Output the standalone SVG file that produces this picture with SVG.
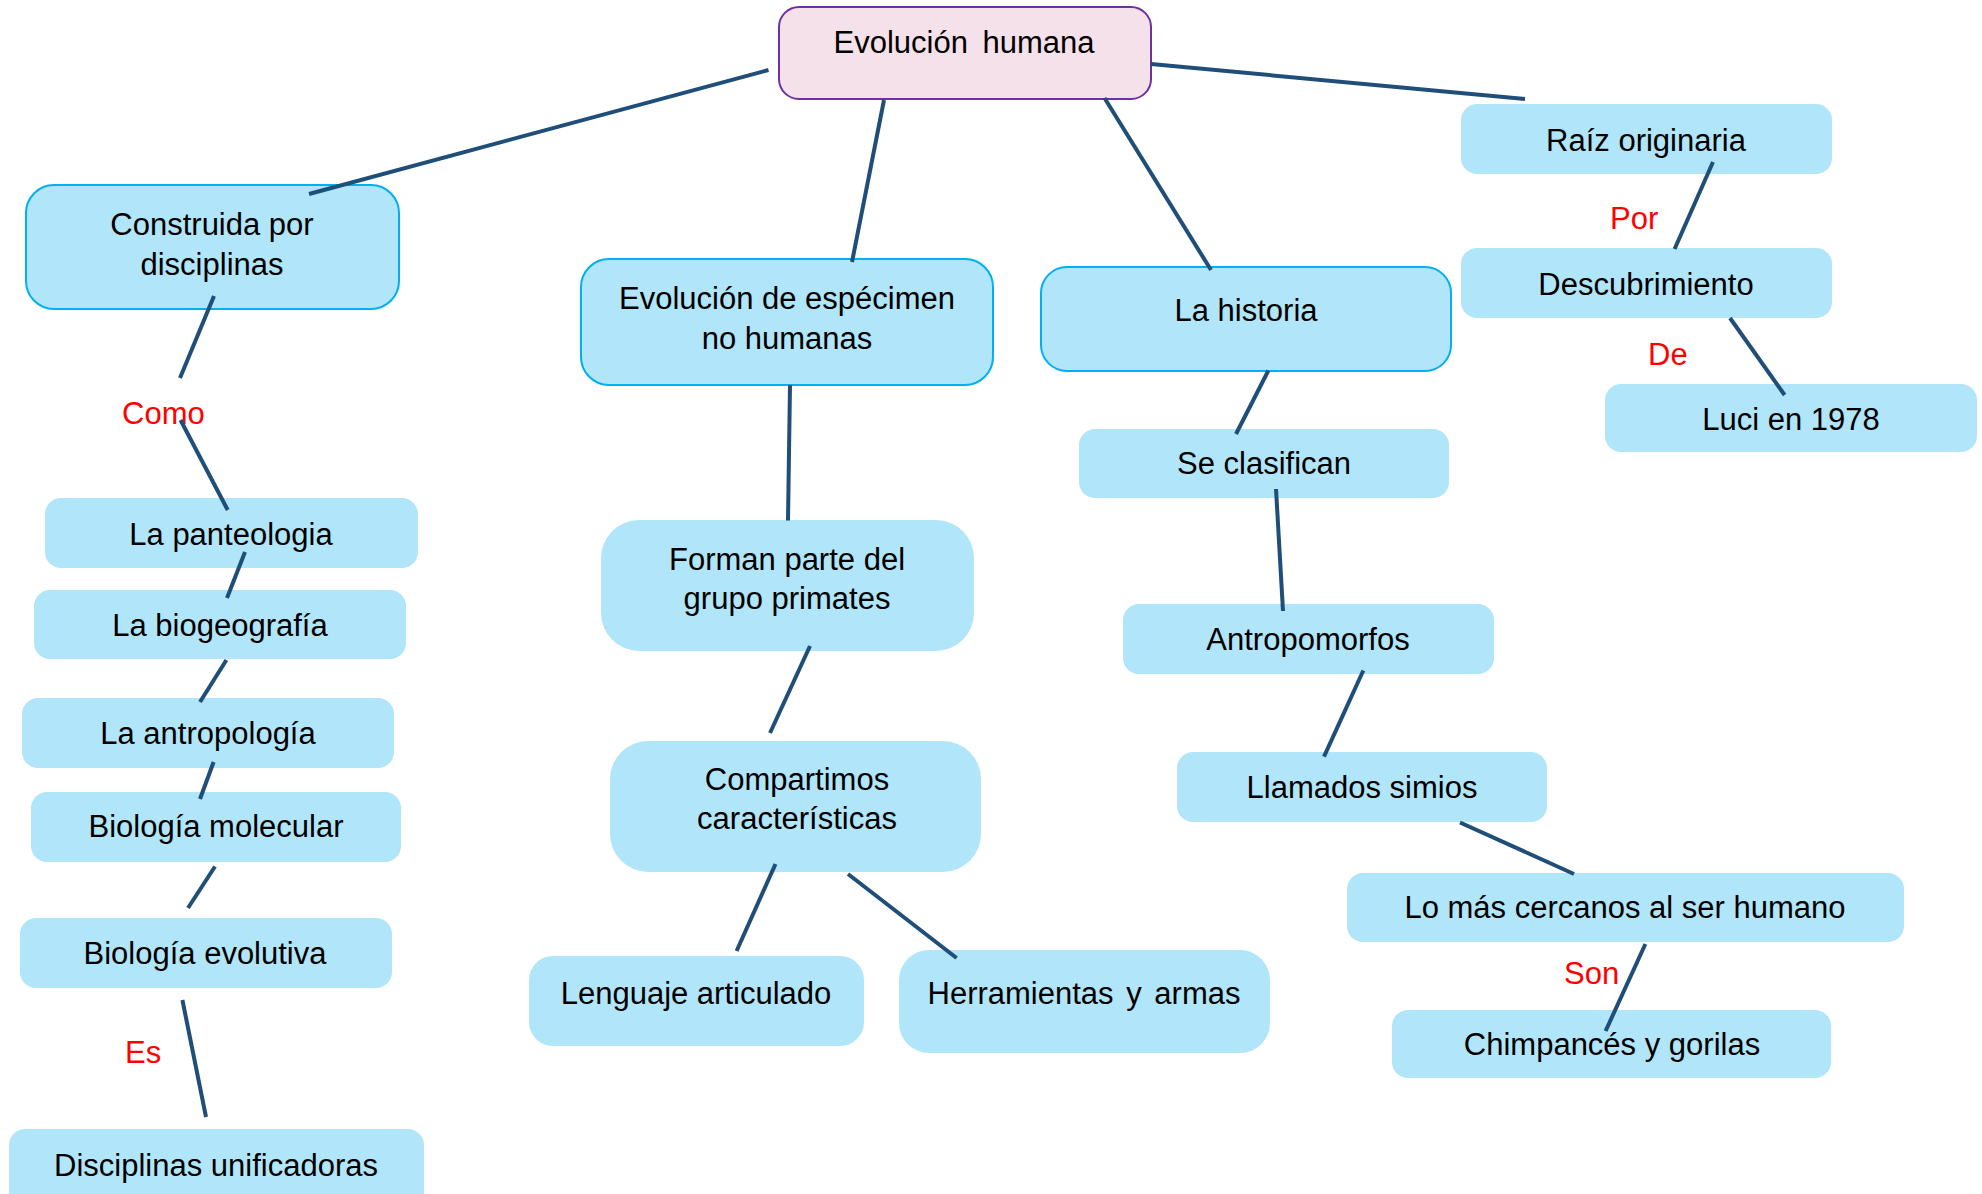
<svg xmlns="http://www.w3.org/2000/svg" width="1982" height="1194" viewBox="0 0 1982 1194">
<style>
.bg{fill:#ffffff}
.root{fill:#f5e1e9;stroke:#7030a0;stroke-width:2}
.nb{fill:#b1e5f9;stroke:#00b0f0;stroke-width:2}
.n{fill:#b1e5f9}
.t{font-family:"Liberation Sans",Arial,sans-serif;font-size:31px;fill:#000000;text-anchor:middle}
.lbl{font-family:"Liberation Sans",Arial,sans-serif;font-size:31px;fill:#ff0000}
.c line{stroke:#1f4e79;stroke-width:4;fill:none}
</style>
<rect class="bg" x="0" y="0" width="1982" height="1194"/>
<g id="n-evolucion-humana"><rect class="root" x="779" y="7" width="372" height="92" rx="20"/><text class="t" x="964" y="53" word-spacing="6">Evolución humana</text></g>
<g id="n-construida"><rect class="nb" x="26" y="185" width="373" height="124" rx="28"/><text class="t" x="212" y="235">Construida por</text><text class="t" x="212" y="275">disciplinas</text></g>
<g id="n-especimen"><rect class="nb" x="581" y="259" width="412" height="126" rx="28"/><text class="t" x="787" y="309">Evolución de espécimen</text><text class="t" x="787" y="349">no humanas</text></g>
<g id="n-historia"><rect class="nb" x="1041" y="267" width="410" height="104" rx="26"/><text class="t" x="1246" y="321">La historia</text></g>
<g id="n-raiz"><rect class="n" x="1461" y="104" width="371" height="70" rx="16"/><text class="t" x="1646" y="151">Raíz originaria</text></g>
<g id="n-descubrimiento"><rect class="n" x="1461" y="248" width="371" height="70" rx="16"/><text class="t" x="1646" y="295">Descubrimiento</text></g>
<g id="n-luci"><rect class="n" x="1605" y="384" width="372" height="68" rx="16"/><text class="t" x="1791" y="430">Luci en 1978</text></g>
<g id="n-clasifican"><rect class="n" x="1079" y="429" width="370" height="69" rx="16"/><text class="t" x="1264" y="474">Se clasifican</text></g>
<g id="n-antropomorfos"><rect class="n" x="1123" y="604" width="371" height="70" rx="16"/><text class="t" x="1308" y="650">Antropomorfos</text></g>
<g id="n-simios"><rect class="n" x="1177" y="752" width="370" height="70" rx="16"/><text class="t" x="1362" y="798">Llamados simios</text></g>
<g id="n-cercanos"><rect class="n" x="1347" y="873" width="557" height="69" rx="16"/><text class="t" x="1625" y="918">Lo más cercanos al ser humano</text></g>
<g id="n-chimpances"><rect class="n" x="1392" y="1010" width="439" height="68" rx="16"/><text class="t" x="1612" y="1055">Chimpancés y gorilas</text></g>
<g id="n-panteologia"><rect class="n" x="45" y="498" width="373" height="70" rx="16"/><text class="t" x="231" y="545">La panteologia</text></g>
<g id="n-biogeografia"><rect class="n" x="34" y="590" width="372" height="69" rx="16"/><text class="t" x="220" y="636">La biogeografía</text></g>
<g id="n-antropologia"><rect class="n" x="22" y="698" width="372" height="70" rx="16"/><text class="t" x="208" y="744">La antropología</text></g>
<g id="n-molecular"><rect class="n" x="31" y="792" width="370" height="70" rx="16"/><text class="t" x="216" y="837">Biología molecular</text></g>
<g id="n-evolutiva"><rect class="n" x="20" y="918" width="372" height="70" rx="16"/><text class="t" x="205" y="964">Biología evolutiva</text></g>
<g id="n-unificadoras"><rect class="n" x="9" y="1129" width="415" height="80" rx="16"/><text class="t" x="216" y="1176">Disciplinas unificadoras</text></g>
<g id="n-primates"><rect class="n" x="601" y="520" width="373" height="131" rx="38"/><text class="t" x="787" y="570">Forman parte del</text><text class="t" x="787" y="609">grupo primates</text></g>
<g id="n-compartimos"><rect class="n" x="610" y="741" width="371" height="131" rx="38"/><text class="t" x="797" y="790">Compartimos</text><text class="t" x="797" y="829">características</text></g>
<g id="n-lenguaje"><rect class="n" x="529" y="956" width="335" height="90" rx="24"/><text class="t" x="696" y="1004">Lenguaje articulado</text></g>
<g id="n-herramientas"><rect class="n" x="899" y="950" width="371" height="103" rx="30"/><text class="t" x="1084" y="1004" word-spacing="4">Herramientas  y armas</text></g>
<g id="labels">
<text class="lbl" x="122" y="424">Como</text>
<text class="lbl" x="1610" y="229">Por</text>
<text class="lbl" x="1648" y="365">De</text>
<text class="lbl" x="125" y="1063">Es</text>
<text class="lbl" x="1564" y="984">Son</text>
</g>
<g id="connectors" class="c">
<line x1="768.5" y1="70" x2="309" y2="194"/>
<line x1="884" y1="100" x2="852" y2="262"/>
<line x1="1151" y1="64" x2="1525" y2="99"/>
<line x1="1104.5" y1="98" x2="1211" y2="270"/>
<line x1="214" y1="296" x2="180" y2="378"/>
<line x1="180.5" y1="420" x2="227.7" y2="510"/>
<line x1="245" y1="552" x2="227" y2="598"/>
<line x1="226.4" y1="660" x2="200" y2="702"/>
<line x1="213.6" y1="762" x2="200" y2="799"/>
<line x1="215" y1="866.5" x2="188" y2="908"/>
<line x1="182.4" y1="1000" x2="206" y2="1117"/>
<line x1="790" y1="385" x2="788" y2="520.5"/>
<line x1="810" y1="646" x2="770" y2="733"/>
<line x1="775.5" y1="864" x2="736.6" y2="951"/>
<line x1="848" y1="874" x2="956.6" y2="958"/>
<line x1="1713" y1="162" x2="1674.6" y2="249"/>
<line x1="1730" y1="318" x2="1784.6" y2="395"/>
<line x1="1268.4" y1="370.5" x2="1236" y2="434"/>
<line x1="1276" y1="489" x2="1283" y2="611"/>
<line x1="1363.3" y1="670.5" x2="1324" y2="756.6"/>
<line x1="1460" y1="822.5" x2="1574" y2="874"/>
<line x1="1645.4" y1="944" x2="1605.6" y2="1031"/>
</g>
</svg>
